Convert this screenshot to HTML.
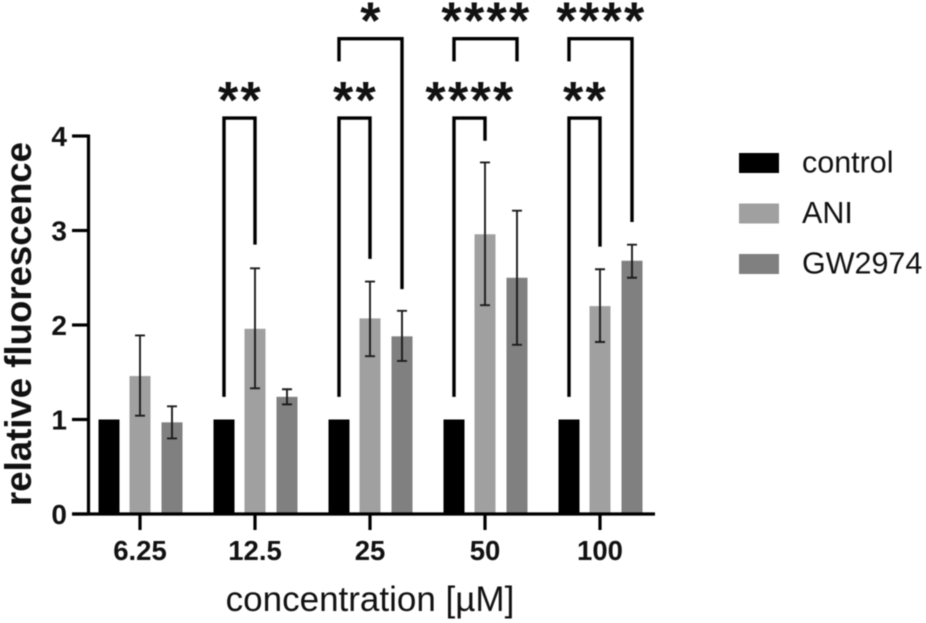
<!DOCTYPE html>
<html lang="en">
<head>
<meta charset="utf-8">
<title>Relative fluorescence by concentration</title>
<style>
html,body{margin:0;padding:0;background:#fff;width:926px;height:623px;overflow:hidden}
svg{display:block;filter:blur(.45px)}
text{font-family:"Liberation Sans",Arial,sans-serif;fill:#111}
</style>
</head>
<body>
<svg id="chart" xmlns="http://www.w3.org/2000/svg" width="926" height="623" viewBox="0 0 926 623"></svg>
<script>
const categories = ['6.25', '12.5', '25', '50', '100'];
const seriesNames = ['control', 'ANI', 'GW2974'];
const controlValues = [1, 1, 1, 1, 1];
const aniValues = [1.46, 1.96, 2.07, 2.96, 2.2];
const aniUpper = [1.89, 2.6, 2.46, 3.72, 2.59];
const aniLower = [1.04, 1.33, 1.67, 2.21, 1.82];
const gwValues = [0.97, 1.24, 1.88, 2.5, 2.68];
const gwUpper = [1.14, 1.32, 2.15, 3.21, 2.85];
const gwLower = [0.8, 1.16, 1.62, 1.79, 2.5];
const yTicks = [0, 1, 2, 3, 4];
const bracketCategory = [1, 2, 2, 3, 3, 4, 4];
const bracketTarget = [1, 1, 2, 1, 2, 1, 2];
const bracketTop = [4.19, 4.19, 5.03, 4.19, 5.03, 4.19, 5.03];
const bracketLeftEnd = [1.24, 1.24, 4.79, 1.24, 4.79, 1.24, 4.79];
const bracketRightEnd = [2.85, 2.7, 2.38, 3.95, 4.79, 2.83, 3.09];
const bracketStars = ['**', '**', '*', '****', '****', '**', '****'];

const NS = 'http://www.w3.org/2000/svg';
const svg = document.getElementById('chart');
const yOf = v => 514 - v * 94.5;
const groupX = i => 140 + i * 115;
const seriesX = (i, s) => groupX(i) + [-31, 0, 32][s];
const barW = 21;

function add(tag, attrs, text) {
  const el = document.createElementNS(NS, tag);
  for (const k in attrs) el.setAttribute(k, attrs[k]);
  if (text !== undefined) el.textContent = text;
  svg.appendChild(el);
  return el;
}

const seriesColors = ['#000000', '#a0a0a0', '#808080'];
const seriesData = [controlValues, aniValues, gwValues];
const upperData = [null, aniUpper, gwUpper];
const lowerData = [null, aniLower, gwLower];

categories.forEach((c, i) => {
  seriesData.forEach((vals, s) => {
    const bar = add('rect', {x: seriesX(i, s) - barW / 2, y: yOf(vals[i]), width: barW, height: yOf(0) - yOf(vals[i]), fill: seriesColors[s]});
    
    
    if (upperData[s]) {
      const x = seriesX(i, s);
      const u = yOf(upperData[s][i]), l = yOf(lowerData[s][i]);
      const err = add('path', {d: `M${x} ${u}V${l}M${x - 5} ${u}H${x + 5}M${x - 5} ${l}H${x + 5}`, stroke: '#1c1c1c', 'stroke-width': 1.9, fill: 'none'});
      
      
    }
  });
});

const yAxis = add('path', {d: `M88.5 ${yOf(4) - 1.5}V${yOf(0)}`, stroke: '#000', 'stroke-width': 3.2, fill: 'none'});


const xAxis = add('path', {d: `M72 ${yOf(0)}H655`, stroke: '#000', 'stroke-width': 3.2, fill: 'none'});



yTicks.forEach(t => {
  const tick = add('path', {d: `M72 ${yOf(t)}H88`, stroke: '#000', 'stroke-width': 3.2});
  
  
  const label = add('text', {x: 67, y: yOf(t) + 10, 'text-anchor': 'end', 'font-size': 28, 'font-weight': 'bold'}, String(t));
  
  
});

categories.forEach((c, i) => {
  const tick = add('path', {d: `M${groupX(i)} ${yOf(0)}V530`, stroke: '#000', 'stroke-width': 3.2});
  
  
  const label = add('text', {x: groupX(i), y: 560, 'text-anchor': 'middle', 'font-size': 27.5, 'font-weight': 'bold'}, c);
  
  
});

bracketCategory.forEach((g, b) => {
  const x1 = seriesX(g, 0), x2 = seriesX(g, bracketTarget[b]);
  const top = yOf(bracketTop[b]);
  const br = add('path', {d: `M${x1} ${yOf(bracketLeftEnd[b])}V${top}H${x2}V${yOf(bracketRightEnd[b])}`, stroke: '#000', 'stroke-width': 3.4, fill: 'none'});
  
  
  const st = add('text', {x: (x1 + x2) / 2 + 1, y: top, 'text-anchor': 'middle', 'font-size': 52, 'letter-spacing': 2.3, 'font-weight': 'bold', fill: '#000'}, bracketStars[b]);
  
  
});

seriesNames.forEach((n, s) => {
  const y = 153 + s * 50.5;
  const sw = add('rect', {x: 739, y: y, width: 40, height: 20, fill: seriesColors[s]});
  
  
  const t = add('text', {x: 802, y: y + 19.5, 'font-size': 30.5}, n);
  
  
});

const xTitle = add('text', {x: 370, y: 611, 'text-anchor': 'middle', 'font-size': 35}, 'concentration [µM]');


const yTitle = add('text', {x: 0, y: 0, 'text-anchor': 'middle', 'font-size': 36.6, 'font-weight': 'bold', transform: 'translate(31 324) rotate(-90)'}, 'relative fluorescence');


</script>
</body>
</html>
